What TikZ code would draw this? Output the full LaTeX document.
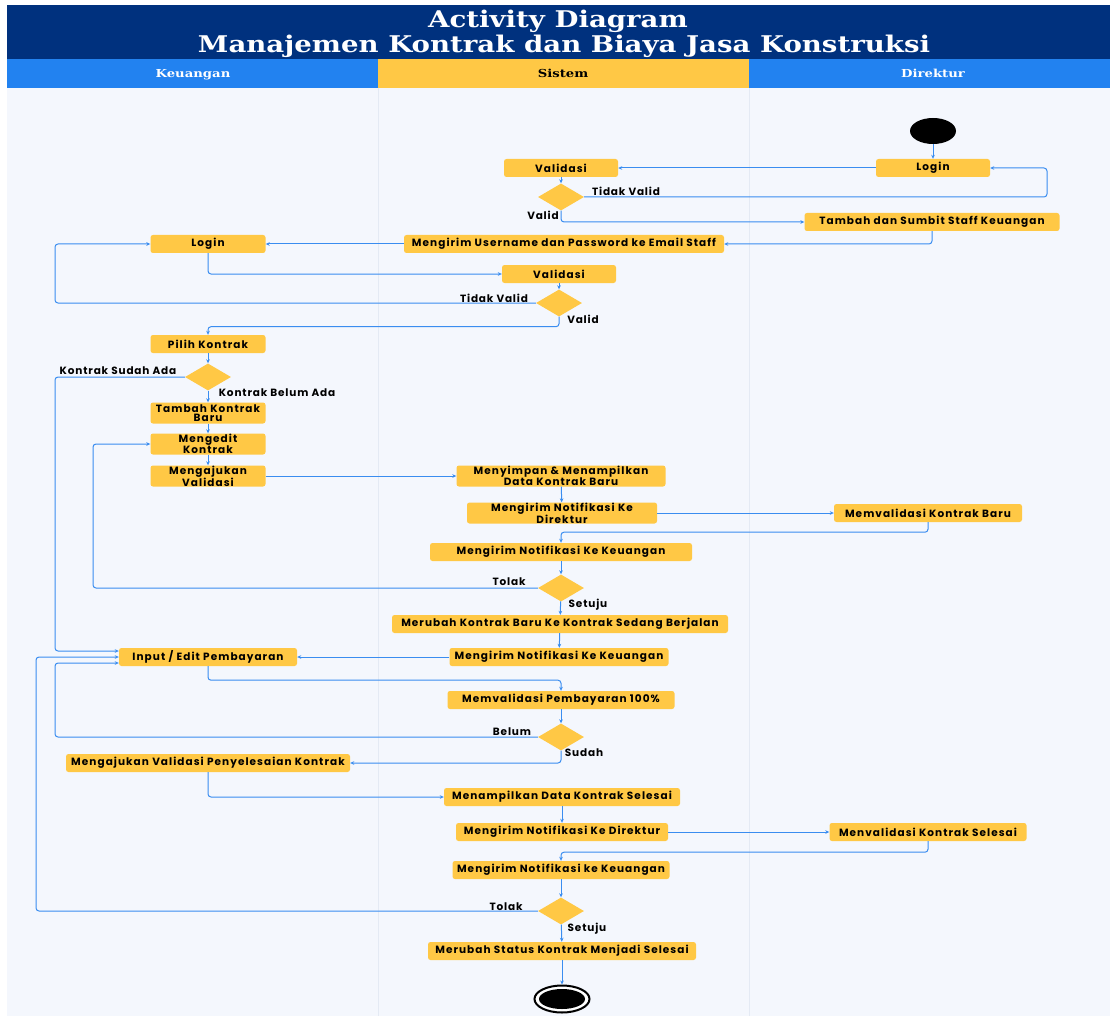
\documentclass[tikz,border=0pt]{standalone}
\usepackage{graphicx}
\usepackage{fontspec}
\setmainfont{Poppins}
\newfontfamily\titlefont{DejaVu Serif}
\usetikzlibrary{arrows.meta,calc,shapes.geometric}
\definecolor{hdrblue}{HTML}{00317E}
\definecolor{lanebl}{HTML}{2282F0}
\definecolor{yel}{HTML}{FFC845}
\definecolor{bgc}{HTML}{F4F7FD}
\definecolor{sep}{HTML}{E4EAF4}
\definecolor{arr}{HTML}{3A8DF0}
\newcommand{\wide}[1]{\scalebox{1.2}[1]{#1}}
\begin{document}
\begin{tikzpicture}[x=1pt,y=-1pt,
  act/.style={fill=yel,rounded corners=2.5pt,inner sep=0pt,align=center,font=\bfseries\fontsize{10.5}{9.5}\selectfont\addfontfeatures{LetterSpace=10},minimum height=18pt},
  act2/.style={act,minimum height=21pt},
  dec/.style={diamond,fill=yel,inner sep=0pt,minimum width=46pt,minimum height=27pt,aspect=1.7},
  flow/.style={draw=arr,line width=1pt,rounded corners=3pt,-{Stealth[length=4pt,width=3.6pt]}},
  lbl/.style={font=\bfseries\fontsize{10.5}{11}\selectfont\addfontfeatures{LetterSpace=8},inner sep=0pt},
  lanetxt/.style={font=\titlefont\bfseries\fontsize{11}{12}\selectfont,inner sep=0pt,anchor=base}]
\useasboundingbox (0,0) rectangle (1110,1016);
\fill[white] (0,0) rectangle (1110,1016);
% lanes
\fill[bgc] (7,88) rectangle (1110,1016);
\draw[sep,line width=0.8pt] (378,88) -- (378,1016);
\draw[sep,line width=0.8pt] (749,88) -- (749,1016);
\fill[hdrblue] (7,5) rectangle (1110,59);
\fill[lanebl] (7,59) rectangle (378,88);
\fill[yel] (378,59) rectangle (749,88);
\fill[lanebl] (749,59) rectangle (1110,88);
\node[font=\titlefont\bfseries\fontsize{23}{24}\selectfont,text=white,inner sep=0pt,anchor=base] (t1) at (558,28) {\wide{Activity Diagram}};
\node[font=\titlefont\bfseries\fontsize{23}{24}\selectfont,text=white,inner sep=0pt,anchor=base] (t2) at (564,53) {\wide{Manajemen Kontrak dan Biaya Jasa Konstruksi}};
\node[lanetxt,text=white] (l1) at (193,78) {\wide{Keuangan}};
\node[lanetxt,text=black] (l2) at (563,78) {\wide{Sistem}};
\node[lanetxt,text=white] (l3) at (933,78) {\wide{Direktur}};
% helper columns
\coordinate (xR) at (1047,0);
\coordinate (xL1) at (55,0);
\coordinate (xL2) at (36,0);
\coordinate (xL3) at (93,0);
% nodes
\node[ellipse,fill=black,minimum width=46pt,minimum height=26pt,inner sep=0pt] (start) at (933,131) {};
\node[act,minimum width=114pt] (login1) at (933,168) {Login};
\node[act,minimum width=114pt] (val1) at (561,168) {Validasi};
\node[dec] (d1) at (561,197) {};
\node[act,minimum width=255pt] (tambah) at (932,222) {Tambah dan Sumbit Staff Keuangan};
\node[act,minimum width=320pt] (kirim) at (564,244) {Mengirim Username dan Password ke Email Staff};
\node[act,minimum width=115pt] (login2) at (208,244) {Login};
\node[act,minimum width=114pt] (val2) at (559,274) {Validasi};
\node[dec] (d2) at (559,303) {};
\node[act,minimum width=115pt] (pilih) at (208,344) {Pilih Kontrak};
\node[dec] (d3) at (208,377) {};
\node[act2,minimum width=115pt] (tkb) at (208,413) {Tambah Kontrak\\Baru};
\node[act2,minimum width=115pt] (edit) at (208,444) {Mengedit\\Kontrak};
\node[act2,minimum width=115pt] (ajukan) at (208,476) {Mengajukan\\Validasi};
\node[act2,minimum width=209pt] (simpan) at (561,476) {Menyimpan \& Menampilkan\\Data Kontrak Baru};
\node[act2,minimum width=190pt] (notifD) at (562,513) {Mengirim Notifikasi Ke\\Direktur};
\node[act,minimum width=188pt] (memval) at (928,513) {Memvalidasi Kontrak Baru};
\node[act,minimum width=262pt] (notifK) at (561,552) {Mengirim Notifikasi Ke Keuangan};
\node[dec] (d4) at (561,588) {};
\node[act,minimum width=336pt] (merubah) at (560,624) {Merubah Kontrak Baru Ke Kontrak Sedang Berjalan};
\node[act,minimum width=219pt] (notifK2) at (559,657) {Mengirim Notifikasi Ke Keuangan};
\node[act,minimum width=178pt] (input) at (208,657) {Input / Edit Pembayaran};
\node[act,minimum width=227pt] (bayar) at (561,700) {Memvalidasi Pembayaran 100\%};
\node[dec] (d5) at (561,737) {};
\node[act,minimum width=284pt] (ajsel) at (208,763) {Mengajukan Validasi Penyelesaian Kontrak};
\node[act,minimum width=236pt] (tampil) at (562,797) {Menampilkan Data Kontrak Selesai};
\node[act,minimum width=212pt] (notifD2) at (562,832) {Mengirim Notifikasi Ke Direktur};
\node[act,minimum width=197pt] (menval) at (928,832) {Menvalidasi Kontrak Selesai};
\node[act,minimum width=217pt] (notifK3) at (561,870) {Mengirim Notifikasi ke Keuangan};
\node[dec] (d6) at (561,911) {};
\node[act,minimum width=268pt] (status) at (562,951) {Merubah Status Kontrak Menjadi Selesai};
\node[ellipse,draw=black,line width=2pt,fill=white,minimum width=55pt,minimum height=27pt,inner sep=0pt] (endo) at (562,999) {};
\node[ellipse,fill=black,minimum width=46pt,minimum height=20pt,inner sep=0pt] (endi) at (562,999) {};
% input entry points
\coordinate (inA) at ($(input.west)+(0,-6)$);
\coordinate (inC) at ($(input.west)+(0,6)$);
% connectors
\draw[flow] (start) -- (login1);
\draw[flow] (login1.west) -- (val1.east);
\draw[flow] (val1) -- (d1);
\draw[flow] (d1.east) -- (d1.east -| xR) |- (login1.east);
\draw[flow] (d1.south) |- (tambah.west);
\draw[flow] (tambah.south) |- (kirim.east);
\draw[flow] (kirim.west) -- (login2.east);
\draw[flow] (login2.south) |- (val2.west);
\draw[flow] (val2) -- (d2);
\draw[flow] (d2.west) -- (d2.west -| xL1) |- (login2.west);
\draw[flow] (d2.south) -- ++(0,10) -| (pilih.north);
\draw[flow] (pilih) -- (d3);
\draw[flow] (d3.west) -- (d3.west -| xL1) |- (inA);
\draw[flow] (d3) -- (tkb);
\draw[flow] (tkb) -- (edit);
\draw[flow] (edit) -- (ajukan);
\draw[flow] (ajukan.east) -- (simpan.west);
\draw[flow] (simpan) -- (notifD);
\draw[flow] (notifD.east) -- (memval.west);
\draw[flow] (memval.south) -- ++(0,10) -| (notifK.north);
\draw[flow] (notifK) -- (d4);
\draw[flow] (d4.west) -- (d4.west -| xL3) |- (edit.west);
\draw[flow] (d4) -- (merubah);
\draw[flow] (merubah) -- (notifK2);
\draw[flow] (notifK2.west) -- (input.east);
\draw[flow] (input.south) -- ++(0,14) -| (bayar.north);
\draw[flow] (bayar) -- (d5);
\draw[flow] (d5.west) -- (d5.west -| xL1) |- (inC);
\draw[flow] (d5.south) |- (ajsel.east);
\draw[flow] (ajsel.south) |- (tampil.west);
\draw[flow] (tampil) -- (notifD2);
\draw[flow] (notifD2.east) -- (menval.west);
\draw[flow] (menval.south) -- ++(0,11) -| (notifK3.north);
\draw[flow] (notifK3) -- (d6);
\draw[flow] (d6.west) -- (d6.west -| xL2) |- (input.west);
\draw[flow] (d6) -- (status);
\draw[flow] (status) -- (endo);
% labels
\node[lbl] (lb1) at (626,191) {Tidak Valid};
\node[lbl] (lb2) at (543,215) {Valid};
\node[lbl] (lb3) at (494,298) {Tidak Valid};
\node[lbl] (lb4) at (583,319) {Valid};
\node[lbl] (lb5) at (118,371) {Kontrak Sudah Ada};
\node[lbl] (lb6) at (277,393) {Kontrak Belum Ada};
\node[lbl] (lb7) at (509,582) {Tolak};
\node[lbl] (lb8) at (588,605) {Setuju};
\node[lbl] (lb9) at (512,732) {Belum};
\node[lbl] (lb10) at (584,753) {Sudah};
\node[lbl] (lb11) at (506,907) {Tolak};
\node[lbl] (lb12) at (587,929) {Setuju};
\end{tikzpicture}
\end{document}
